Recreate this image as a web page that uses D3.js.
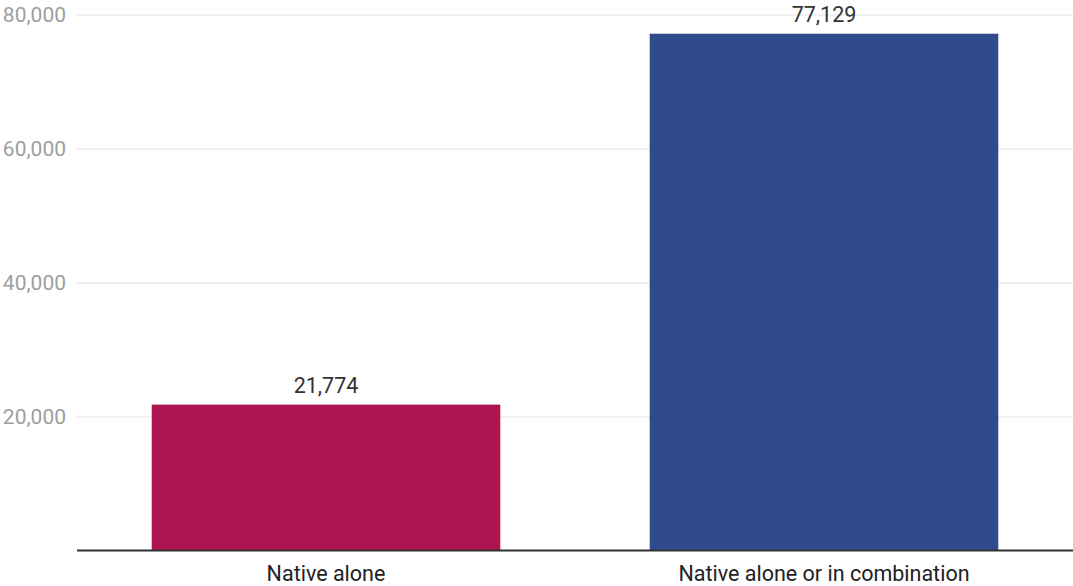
<!DOCTYPE html>
<html>
<head>
<meta charset="utf-8">
<script src="https://cdn.jsdelivr.net/npm/d3@7"></script>
<style>
  html, body { margin: 0; padding: 0; background: #fff; }
  svg { display: block; font-family: Roboto, "Noto Sans", sans-serif; }
</style>
</head>
<body>
<svg id="chart" width="1073" height="586"></svg>
<script>
const categories = ["Native alone", "Native alone or in combination"];
const values = [21774, 77129];
const barColors = ["#ad1550", "#304b8c"];
const tickValues = [20000, 40000, 60000, 80000];

const W = 1073, H = 586;
const margin = { top: 14.5, right: 0, bottom: 35.5, left: 77 };

const svg = d3.select("#chart");

const x = d3.scaleBand()
  .domain(categories)
  .range([margin.left, W - margin.right])
  .paddingInner(0.3)
  .paddingOuter(0.15);

const y = d3.scaleLinear()
  .domain([0, 80000])
  .range([H - margin.bottom, margin.top]);

const fmt = d3.format(",");

// horizontal gridlines with tick labels
const yAxis = svg.append("g")
  .attr("transform", `translate(${margin.left},0)`)
  .call(d3.axisLeft(y)
    .tickValues(tickValues)
    .tickSize(-(W - margin.left - margin.right))
    .tickPadding(11)
    .tickFormat(fmt));
yAxis.select(".domain").remove();
yAxis.selectAll(".tick line").attr("stroke", "#e2e2e2").attr("stroke-width", 1);
yAxis.selectAll(".tick text")
  .attr("fill", "#9e9e9e")
  .attr("font-size", 21)
  .attr("font-family", "Roboto, sans-serif");

// bars
svg.append("g").selectAll("rect")
  .data(categories)
  .join("rect")
  .attr("x", d => x(d))
  .attr("width", x.bandwidth())
  .attr("y", (d, i) => y(values[i]))
  .attr("height", (d, i) => y(0) - y(values[i]))
  .attr("fill", (d, i) => barColors[i]);

// value labels
svg.append("g").selectAll("text")
  .data(categories)
  .join("text")
  .attr("x", d => x(d) + x.bandwidth() / 2)
  .attr("y", (d, i) => y(values[i]) - 12)
  .attr("text-anchor", "middle")
  .attr("font-size", 21.5)
  .attr("fill", "#333")
  .text((d, i) => fmt(values[i]));

// baseline
svg.append("line")
  .attr("x1", margin.left)
  .attr("x2", W - margin.right)
  .attr("y1", y(0))
  .attr("y2", y(0))
  .attr("stroke", "#333")
  .attr("stroke-width", 2);

// category labels
svg.append("g").selectAll("text")
  .data(categories)
  .join("text")
  .attr("x", d => x(d) + x.bandwidth() / 2)
  .attr("y", y(0) + 30)
  .attr("text-anchor", "middle")
  .attr("font-size", 21.5)
  .attr("fill", "#222")
  .text(d => d);
</script>
</body>
</html>
